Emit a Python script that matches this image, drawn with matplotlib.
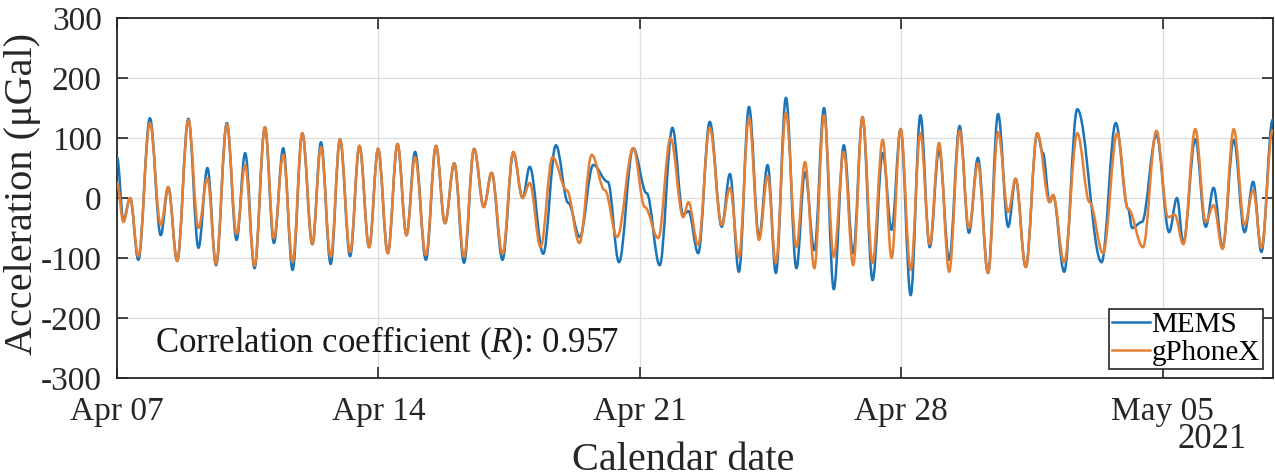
import datetime as dt
import matplotlib
matplotlib.use("Agg")
import matplotlib.pyplot as plt
import matplotlib.dates as mdates
from matplotlib.path import Path
from matplotlib.patches import PathPatch
from matplotlib.lines import Line2D

# data: turning points, time in days after 2021-04-07 00:00
mems_days = [0.00, 0.17, 0.35, 0.57, 0.88, 1.17, 1.37, 1.61, 1.91, 2.18, 2.42, 2.65, 2.94, 3.20, 3.43,
             3.68, 3.96, 4.20, 4.45, 4.70, 4.96, 5.23, 5.46, 5.72, 5.97, 6.24, 6.49, 6.75, 6.99, 7.25,
             7.51, 7.75, 7.98, 8.27, 8.54, 8.78, 9.03, 9.29, 9.56, 9.82, 10.03, 10.32, 10.61, 10.86,
             11.05, 11.41, 11.75, 12.08, 12.39, 12.75, 13.14, 13.44, 13.82, 14.18, 14.53, 14.87,
             15.16, 15.30, 15.56, 15.87, 16.19, 16.41, 16.65, 16.92, 17.19, 17.42, 17.64, 17.91,
             18.19, 18.42, 18.67, 18.93, 19.19, 19.46, 19.71, 19.96, 20.23, 20.50, 20.74, 20.98,
             21.25, 21.51, 21.76, 22.01, 22.28, 22.56, 22.81, 23.05, 23.32, 23.59, 23.86, 24.06,
             24.33, 24.64, 24.79, 24.97, 25.06, 25.36, 25.71, 26.36, 26.74, 27.07, 27.18, 27.44,
             27.83, 28.17, 28.38, 28.55, 28.87, 29.15, 29.36, 29.60, 29.90, 30.19, 30.42, 30.64,
             30.94]
mems_vals = [68, -37, 0, -103, 133, -62, 18, -105, 132, -83, 50, -112, 125, -70, 75,
             -117, 118, -75, 83, -120, 108, -77, 93, -110, 98, -97, 87, -82, 82, -92,
             90, -62, 77, -103, 87, -42, 58, -108, 82, -15, 42, -103, 75, 0,
             52, -93, 88, -8, -65, 55, 27, -107, 83, 8, -112, 117,
             -28, -22, -92, 127, -48, 40, -123, 152, -65, 55, -125, 167,
             -117, 43, -87, 150, -152, 88, -92, 135, -137, 75, -53, 115,
             -162, 138, -82, 80, -103, 120, -58, 67, -125, 140, -48, 32,
             -115, 108, 75, -7, 5, -123, 148, -107, 125, -18, -50, -40,
             105, -57, 0, -75, 98, -48, 17, -82, 97, -57, 27, -90,
             130]

gphone_days = [0.00, 0.17, 0.35, 0.57, 0.88, 1.17, 1.37, 1.61, 1.91, 2.18, 2.42, 2.65, 2.94, 3.20, 3.43,
               3.68, 3.96, 4.20, 4.45, 4.70, 4.96, 5.23, 5.46, 5.72, 5.97, 6.24, 6.49, 6.75, 6.99, 7.25,
               7.51, 7.75, 7.98, 8.27, 8.54, 8.78, 9.03, 9.29, 9.56, 9.82, 10.03, 10.32, 10.61, 10.86,
               11.05, 11.34, 11.66, 12.04, 12.38, 12.71, 13.06, 13.39, 13.82, 14.13, 14.49, 14.82,
               15.16, 15.30, 15.56, 15.87, 16.19, 16.41, 16.65, 16.92, 17.19, 17.42, 17.64, 17.91,
               18.19, 18.42, 18.67, 18.93, 19.19, 19.46, 19.71, 19.96, 20.23, 20.50, 20.74, 20.98,
               21.25, 21.51, 21.76, 22.01, 22.28, 22.56, 22.81, 23.05, 23.32, 23.59, 23.86, 24.06,
               24.33, 24.64, 24.97, 25.06, 25.36, 25.71, 26.04, 26.40, 26.78, 27.07, 27.47,
               27.83, 28.14, 28.32, 28.55, 28.87, 29.15, 29.36, 29.60, 29.90, 30.19, 30.42, 30.64,
               30.94]
gphone_vals = [25, -40, 0, -97, 125, -45, 18, -105, 130, -50, 33, -110, 123, -60, 55,
               -113, 118, -67, 72, -107, 108, -77, 85, -98, 98, -90, 87, -82, 82, -92,
               90, -62, 68, -95, 87, -42, 58, -98, 82, -15, 42, -93, 77, 0,
               25, -82, 68, 13, -75, 72, 13, -65, 83, -15, -67, 100,
               -32, -7, -78, 117, -45, 17, -98, 133, -70, 37, -108, 142,
               -82, 60, -117, 138, -98, 77, -112, 135, -108, 97, -100, 115,
               -120, 108, -77, 92, -123, 112, -50, 58, -125, 110, -23, 32,
               -115, 108, -7, 5, -107, 108, -7, -92, 108, -18, -82,
               112, -32, -28, -77, 115, -40, -12, -85, 115, -45, 13, -83,
               113]

series_names = ["MEMS", "gPhoneX"]
date_ticks = ["2021-04-07", "2021-04-14", "2021-04-21", "2021-04-28", "2021-05-05"]
y_ticks = [-300, -200, -100, 0, 100, 200, 300]
r_value = 0.957

plt.rcParams["font.family"] = ["Liberation Serif", "DejaVu Serif"]
plt.rcParams["mathtext.fontset"] = "custom"
plt.rcParams["mathtext.it"] = "Liberation Serif:italic"
plt.rcParams["mathtext.rm"] = "Liberation Serif"
plt.rcParams["axes.unicode_minus"] = False

start = dt.datetime(2021, 4, 7)
t0 = mdates.date2num(start)


def smooth_line(ax, days, vals, color, lw=1.8):
    # turning points joined by cubic curves with flat tangents at each point
    x = [t0 + d for d in days]
    verts = [(x[0], vals[0])]
    codes = [Path.MOVETO]
    for i in range(len(x) - 1):
        h = x[i + 1] - x[i]
        verts += [(x[i] + 0.364 * h, vals[i]), (x[i + 1] - 0.364 * h, vals[i + 1]), (x[i + 1], vals[i + 1])]
        codes += [Path.CURVE4] * 3
    ax.add_patch(PathPatch(Path(verts, codes), fill=False, edgecolor=color, lw=lw,
                           joinstyle="round", capstyle="round", zorder=3))


fig = plt.figure(figsize=(12.75, 4.74), dpi=100)
ax = fig.add_axes([0.0918, 0.2025, 0.9066, 0.7595])

blue = "#1C74B8"
orange = "#E57F33"
txt = "#262626"
smooth_line(ax, mems_days, mems_vals, blue)
smooth_line(ax, gphone_days, gphone_vals, orange)

ax.set_xlim(t0, t0 + 30.95)
ax.set_ylim(-300, 300)
ax.set_yticks(y_ticks)
ticks = [mdates.date2num(dt.datetime.strptime(s, "%Y-%m-%d")) for s in date_ticks]
ax.set_xticks(ticks)
ax.xaxis.set_major_formatter(mdates.DateFormatter("%b %d"))

ax.grid(True, color="#dedede", lw=0.9)
ax.set_axisbelow(True)
ax.tick_params(direction="in", length=8, width=1.2, colors=txt, labelsize=24,
               top=True, right=True)
ax.tick_params(axis="x", pad=13)
ax.tick_params(axis="y", pad=11)
for sp in ax.spines.values():
    sp.set_color(txt)
    sp.set_linewidth(1.3)

ax.set_ylabel("Acceleration (\u03bcGal)", fontsize=29, color=txt)
ax.yaxis.set_label_coords(-0.066, 0.51)
ax.set_xlabel("Calendar date", fontsize=29, color=txt)
ax.xaxis.set_label_coords(0.49, -0.177)
ax.text(0.977, -0.172, "2021", transform=ax.transAxes, fontsize=25, color=txt,
        ha="right", va="center")

ax.text(0.033, 0.097, "Correlation coefficient ($\\mathit{R}$): %.3f" % r_value,
        transform=ax.transAxes, fontsize=25, color="#1a1a1a", ha="left", va="center")

handles = [Line2D([], [], color=blue, lw=1.8), Line2D([], [], color=orange, lw=1.8)]
leg = ax.legend(handles, series_names, loc="lower right", bbox_to_anchor=(0.991, 0.025),
                borderaxespad=0, fontsize=21, frameon=True, fancybox=False,
                handlelength=1.3, handletextpad=0.05, labelspacing=0.05, borderpad=0.1)
leg.get_frame().set_edgecolor(txt)
leg.get_frame().set_linewidth(1.2)
leg.get_frame().set_alpha(1)

fig.savefig("out.png", dpi=100)
